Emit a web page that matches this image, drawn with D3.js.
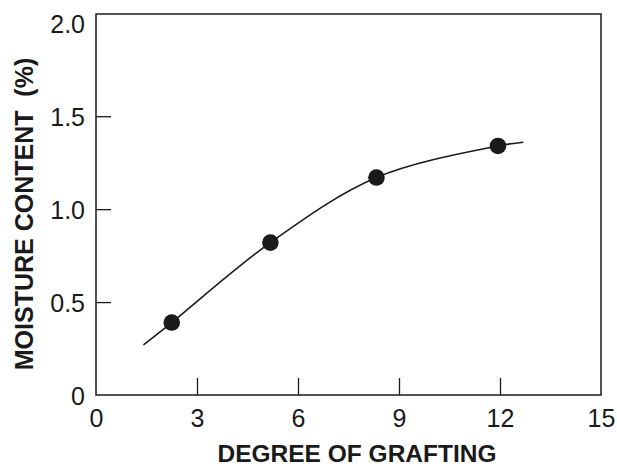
<!DOCTYPE html>
<html>
<head>
<meta charset="utf-8">
<script src="https://cdn.jsdelivr.net/npm/d3@7"></script>
<style>
  html, body { margin: 0; padding: 0; background: #fff; }
  svg { display: block; }
  text { font-family: "Liberation Sans", Arial, Helvetica, sans-serif; fill: #1a1a1a; }
</style>
</head>
<body>
<svg id="chart" width="617" height="467"></svg>
<script>
// Measured moisture content versus degree of grafting
const grafting = [2.25, 5.18, 8.33, 11.94];
const moisture = [0.39, 0.82, 1.17, 1.34];

// Smooth trend curve drawn through the measurements
const trendX = [1.41, 2.25, 5.18, 8.33, 11.94, 12.69];
const trendY = [0.27, 0.39, 0.82, 1.17, 1.34, 1.36];

// Axis ticks and their labels
const xTicks = [0, 3, 6, 9, 12, 15];
const xTickLabels = ["0", "3", "6", "9", "12", "15"];
const yTicks = [0, 0.5, 1.0, 1.5, 2.0];
const yTickLabels = ["0", "0.5", "1.0", "1.5", "2.0"];

const xTitle = "DEGREE OF GRAFTING";
const yTitle = "MOISTURE CONTENT\u00a0\u00a0(%)";

const svg = d3.select("#chart");
const ink = "#1a1a1a";

const x = d3.scaleLinear().domain([0, 15]).range([96, 601]);
const y = d3.scaleLinear().domain([0, 2.05]).range([395, 14]);

// Plot frame
svg.append("rect")
  .attr("x", x(0)).attr("y", y(2.05))
  .attr("width", x(15) - x(0)).attr("height", y(0) - y(2.05))
  .attr("fill", "none").attr("stroke", ink).attr("stroke-width", 1.5);

// Bottom axis: ticks point into the plot
const xAxis = d3.axisBottom(x)
  .tickValues(xTicks)
  .tickSize(-17)
  .tickPadding(0)
  .tickFormat((d, i) => xTickLabels[i]);
const gx = svg.append("g").attr("transform", `translate(0,${y(0)})`).call(xAxis);
gx.select(".domain").remove();
gx.selectAll(".tick line")
  .attr("stroke", ink).attr("stroke-width", 1.3)
  .attr("display", d => (d === 0 || d === 15) ? "none" : null);
gx.selectAll(".tick text")
  .attr("y", 32).attr("dy", null)
  .attr("font-size", 25).attr("fill", ink);

// Left axis: ticks point into the plot
const yAxis = d3.axisLeft(y)
  .tickValues(yTicks)
  .tickSize(-15)
  .tickPadding(0)
  .tickFormat((d, i) => yTickLabels[i]);
const gy = svg.append("g").attr("transform", `translate(${x(0)},0)`).call(yAxis);
gy.select(".domain").remove();
gy.selectAll(".tick line")
  .attr("stroke", ink).attr("stroke-width", 1.3)
  .attr("display", d => (d === 0 || d === 2.0) ? "none" : null);
gy.selectAll(".tick text")
  .attr("x", -11).attr("dy", "0.36em")
  .attr("font-size", 25).attr("fill", ink);

// Axis titles
svg.append("text")
  .attr("x", 357).attr("y", 462)
  .attr("text-anchor", "middle")
  .attr("font-size", 24.5).attr("font-weight", "bold")
  .text(xTitle);

svg.append("text")
  .attr("transform", `translate(33,${214}) rotate(-90)`)
  .attr("text-anchor", "middle")
  .attr("font-size", 25).attr("font-weight", "bold")
  .text(yTitle);

// Trend curve
const line = d3.line()
  .x(d => x(d[0]))
  .y(d => y(d[1]))
  .curve(d3.curveCatmullRom.alpha(0.5));
svg.append("path")
  .datum(trendX.map((v, i) => [v, trendY[i]]))
  .attr("d", line)
  .attr("fill", "none").attr("stroke", ink).attr("stroke-width", 1.6);

// Data points
svg.append("g").selectAll("circle")
  .data(grafting.map((v, i) => [v, moisture[i]]))
  .join("circle")
  .attr("cx", d => x(d[0]))
  .attr("cy", d => y(d[1]))
  .attr("r", 8.3)
  .attr("fill", ink);
</script>
</body>
</html>
